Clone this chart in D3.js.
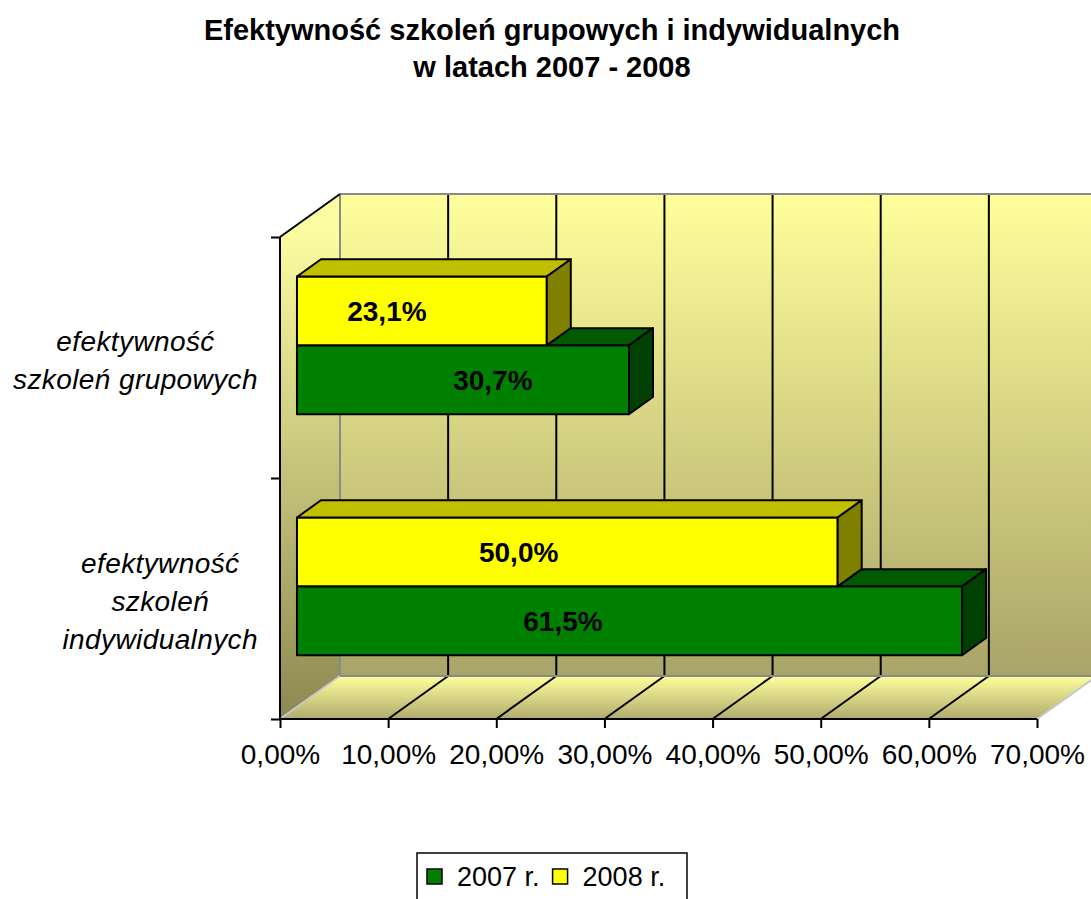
<!DOCTYPE html>
<html>
<head>
<meta charset="utf-8">
<script src="https://cdn.jsdelivr.net/npm/d3@7"></script>
<style>
  body { margin: 0; background: #fff; }
  svg { display: block; font-family: "Liberation Sans", Arial, sans-serif; }
</style>
</head>
<body>
<div id="chart"></div>
<script>
// data
const titleLines = ["Efektywność szkoleń grupowych i indywidualnych", "w latach 2007 - 2008"];
const categories = ["grupowe", "indywidualne"];
const categoryLabels = [["efektywność", "szkoleń grupowych"], ["efektywność", "szkoleń", "indywidualnych"]];
const seriesNames = ["2007 r.", "2008 r."];
const values2007 = [30.7, 61.5];
const values2008 = [23.1, 50.0];
const xTicks = [0, 10, 20, 30, 40, 50, 60, 70];

function draw() {
    const width = 1091, height = 899;
    const plot = {left: 280, right: 1037, top: 237, bottom: 719};
    const depth = {dx: 60, dy: -43};          // back wall offset
    const barDepth = {front: 0.283, back: 0.683}; // bars sit in the middle of the depth
    const colors = {
        "2007 r.": {front: "#008000", top: "#005a00", side: "#004000"},
        "2008 r.": {front: "#ffff00", top: "#c0c000", side: "#808000"}
    };
    const labelShift = {"2007 r.": [0.59, 0.40], "2008 r.": [0.36, 0.41]}; // excel puts the 3d labels oddly

    const series = [
        {name: "2007 r.", values: values2007},
        {name: "2008 r.", values: values2008}
    ];

    const svg = d3.select("#chart").append("svg")
        .attr("width", width)
        .attr("height", height);

    const defs = svg.append("defs");
    let grad = (id, x1, y1, x2, y2, c1, c2) => {
        let g = defs.append("linearGradient")
            .attr("id", id)
            .attr("gradientUnits", "userSpaceOnUse")
            .attr("x1", x1).attr("y1", y1).attr("x2", x2).attr("y2", y2);
        g.append("stop").attr("offset", 0).attr("stop-color", c1);
        g.append("stop").attr("offset", 1).attr("stop-color", c2);
    };
    grad("wallGrad", 0, plot.top + depth.dy, 0, plot.bottom + depth.dy, "#ffff9c", "#a9a468");
    grad("sideGrad", 0, plot.top, 0, plot.bottom, "#fbfba0", "#8c8852");
    grad("floorGrad", 0, plot.bottom + depth.dy, 0, plot.bottom, "#ffff9c", "#b0ab6e");

    // scales
    let xScale = d3.scaleLinear().domain([0, 70]).range([plot.left, plot.right]);
    let yScale = d3.scaleBand().domain(categories).range([plot.top, plot.bottom]);
    let yInner = d3.scaleBand().domain(["2008 r.", "2007 r."])
        .range([0, yScale.bandwidth()])
        .paddingInner(0)
        .paddingOuter(0.75);

    let proj = (x, y, d) => [x + depth.dx * d, y + depth.dy * d];
    let poly = pts => "M" + pts.map(p => p.join(",")).join("L") + "Z";

    // walls
    let b = proj(plot.left, plot.top, 1);
    let bb = proj(plot.right, plot.bottom, 1);
    svg.append("rect") // back wall
        .attr("x", b[0]).attr("y", b[1])
        .attr("width", bb[0] - b[0]).attr("height", bb[1] - b[1])
        .attr("fill", "url(#wallGrad)");
    svg.append("path") // left wall
        .attr("d", poly([[plot.left, plot.top], proj(plot.left, plot.top, 1), proj(plot.left, plot.bottom, 1), [plot.left, plot.bottom]]))
        .attr("fill", "url(#sideGrad)");
    svg.append("path") // floor
        .attr("d", poly([[plot.left, plot.bottom], proj(plot.left, plot.bottom, 1), proj(plot.right, plot.bottom, 1), [plot.right, plot.bottom]]))
        .attr("fill", "url(#floorGrad)");

    // gridlines on back wall and floor
    svg.append("g").selectAll("line")
        .data(xTicks)
        .enter().append("line")
        .attr("x1", d => proj(xScale(d), plot.top, 1)[0])
        .attr("x2", d => proj(xScale(d), plot.bottom, 1)[0])
        .attr("y1", b[1]).attr("y2", bb[1])
        .attr("stroke", d => d === 0 ? "#8a8a8a" : "#000")
        .attr("stroke-width", 2);
    svg.append("g").selectAll("line")
        .data(xTicks)
        .enter().append("line")
        .attr("x1", d => xScale(d)).attr("y1", plot.bottom)
        .attr("x2", d => proj(xScale(d), plot.bottom, 1)[0])
        .attr("y2", bb[1])
        .attr("stroke", d => (d === 0 || d === 70) ? "#c8c8c8" : "#000")
        .attr("stroke-width", 2);
    svg.append("line") // back wall top edge
        .attr("x1", b[0]).attr("x2", width).attr("y1", b[1]).attr("y2", b[1])
        .attr("stroke", "#8a8a8a").attr("stroke-width", 2);
    svg.append("line") // floor back edge
        .attr("x1", b[0]).attr("x2", width).attr("y1", bb[1]).attr("y2", bb[1])
        .attr("stroke", "#8a8a8a").attr("stroke-width", 2);
    svg.append("line") // left wall top edge
        .attr("x1", plot.left).attr("y1", plot.top).attr("x2", b[0]).attr("y2", b[1])
        .attr("stroke", "#000").attr("stroke-width", 2);

    // axes
    let xAxis = d3.axisBottom(xScale)
        .tickValues(xTicks)
        .tickSize(9)
        .tickPadding(16)
        .tickFormat(d => d.toFixed(2).replace(".", ",") + "%");
    let xg = svg.append("g")
        .attr("transform", `translate(0,${plot.bottom})`)
        .call(xAxis);
    xg.select(".domain").attr("stroke-width", 2).attr("d", `M${plot.left},0H${plot.right}`);
    xg.selectAll(".tick line").attr("stroke-width", 2);
    xg.selectAll("text")
        .attr("font-family", "Liberation Sans, Arial, sans-serif")
        .attr("font-size", 28)
        .attr("fill", "#000");

    let yAxis = d3.axisLeft(d3.scaleLinear().domain([0, 2]).range([plot.top, plot.bottom]))
        .tickValues([0, 1, 2])
        .tickSize(9)
        .tickFormat("");
    let yg = svg.append("g")
        .attr("transform", `translate(${plot.left},0)`)
        .call(yAxis);
    yg.select(".domain").attr("stroke-width", 2).attr("d", `M0,${plot.top}V${plot.bottom}`);
    yg.selectAll(".tick line").attr("stroke-width", 2);

    // category labels
    categories.forEach((c, i) => {
        let lines = categoryLabels[i];
        let mid = yScale(c) + yScale.bandwidth() / 2 + 2;
        let lh = 38;
        let t = svg.append("text")
            .attr("font-size", 28)
            .attr("font-style", "italic")
            .attr("letter-spacing", 0.4)
            .attr("text-anchor", "middle");
        lines.forEach((ln, j) => {
            t.append("tspan")
                .attr("x", 0)
                .attr("y", mid + (j - (lines.length - 1) / 2) * lh + 10)
                .text(ln);
        });
        let w = t.node().getBBox().width;
        t.attr("transform", `translate(${258 - w / 2},0)`);
    });

    // bars, lower bar first so the upper one covers its top face
    let bars = [];
    categories.forEach((c, i) => {
        ["2007 r.", "2008 r."].forEach(s => {
            let ser = series.find(d => d.name === s);
            bars.push({cat: c, idx: i, name: s, value: ser.values[i]});
        });
    });

    let barG = svg.append("g");
    bars.forEach(d => {
        let y0 = yScale(d.cat) + yInner(d.name);
        let y1 = y0 + yInner.bandwidth();
        let x0 = xScale(0), x1 = xScale(d.value);
        let f = barDepth.front, k = barDepth.back;
        let col = colors[d.name];
        let g = barG.append("g")
            .attr("stroke", "#000")
            .attr("stroke-width", 2)
            .attr("stroke-linejoin", "round");
        g.append("path") // front
            .attr("d", poly([proj(x0, y0, f), proj(x1, y0, f), proj(x1, y1, f), proj(x0, y1, f)]))
            .attr("fill", col.front);
        g.append("path") // top
            .attr("d", poly([proj(x0, y0, f), proj(x0, y0, k), proj(x1, y0, k), proj(x1, y0, f)]))
            .attr("fill", col.top);
        g.append("path") // side
            .attr("d", poly([proj(x1, y0, f), proj(x1, y0, k), proj(x1, y1, k), proj(x1, y1, f)]))
            .attr("fill", col.side);
        let lx = xScale(d.value * labelShift[d.name][d.idx]);
        let p = proj(lx, (y0 + y1) / 2, f);
        barG.append("text")
            .text(d.value.toFixed(1).replace(".", ",") + "%")
            .attr("x", p[0])
            .attr("y", p[1])
            .attr("dy", "0.36em")
            .attr("text-anchor", "middle")
            .attr("font-size", 28)
            .attr("font-weight", "bold")
            .attr("fill", "#000");
    });

    // title
    svg.append("g").selectAll("text")
        .data(titleLines)
        .enter().append("text")
        .text(d => d)
        .attr("x", 552)
        .attr("y", (d, i) => 40 + i * 37)
        .attr("text-anchor", "middle")
        .attr("font-size", 29)
        .attr("font-weight", "bold");

    // legend
    let legend = svg.append("g").attr("transform", "translate(417,853)");
    legend.append("rect")
        .attr("x", 0).attr("y", 0)
        .attr("width", 270).attr("height", 60)
        .attr("fill", "#fff")
        .attr("stroke", "#000")
        .attr("stroke-width", 1.5);
    let lx = 10;
    seriesNames.forEach(s => {
        let row = legend.append("g").attr("transform", `translate(${lx},0)`);
        row.append("rect")
            .attr("x", 0).attr("y", 16)
            .attr("width", 15).attr("height", 15)
            .attr("fill", colors[s].front)
            .attr("stroke", "#000")
            .attr("stroke-width", 1.5);
        let t = row.append("text")
            .text(s)
            .attr("x", 30)
            .attr("y", 33)
            .attr("font-size", 27);
        lx += 30 + t.node().getComputedTextLength() + 13;
    });
}

draw();
</script>
</body>
</html>
